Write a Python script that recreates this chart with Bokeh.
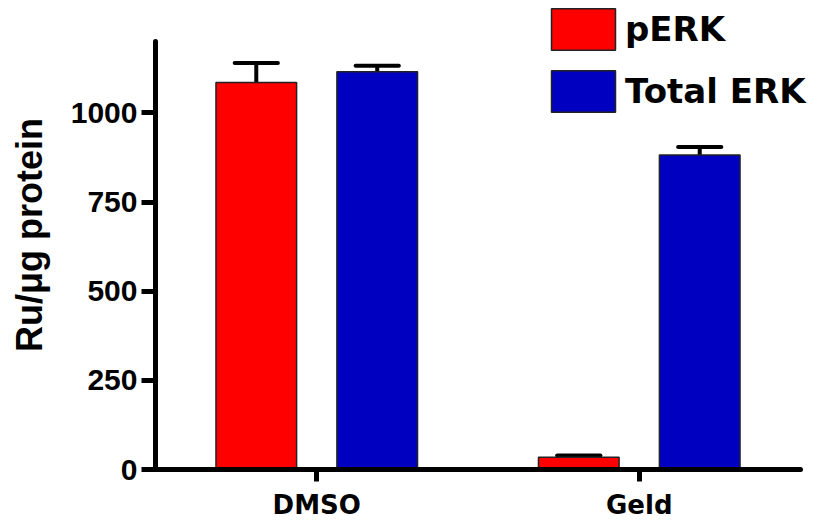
from bokeh.plotting import figure
from bokeh.models import ColumnDataSource, Range1d, FixedTicker
from bokeh.transform import dodge
from bokeh.embed import file_html
from bokeh.resources import INLINE

categories = ["DMSO", "Geld"]
series_names = ["pERK", "Total ERK"]
perk_values = [1085, 34]
perk_errors = [55, 5]
total_values = [1115, 882]
total_errors = [17, 22]
y_ticks = [0, 250, 500, 750, 1000]

colors = ["#FF0000", "#0000C0"]
offsets = [-0.1875, 0.1875]
positions = [i + 1 for i in range(len(categories))]

p = figure(x_range=Range1d(0.5, 2.624), y_range=Range1d(0, 1315),
           width=840, height=524, output_backend="svg", toolbar_location=None,
           min_border_left=155, min_border_right=0, min_border_top=0, min_border_bottom=55)

series = [(perk_values, perk_errors), (total_values, total_errors)]
for name, (vals, errs), col, off in zip(series_names, series, colors, offsets):
    src = ColumnDataSource(dict(x=positions, cat=categories, val=vals,
                                upper=[v + e for v, e in zip(vals, errs)]))
    p.segment(x0=dodge("x", off), y0="val", x1=dodge("x", off), y1="upper",
              source=src, line_color="black", line_width=4)
    p.segment(x0=dodge("x", off - 0.067), y0="upper", x1=dodge("x", off + 0.067), y1="upper",
              source=src, line_color="black", line_width=4, line_cap="round")
    p.vbar(x=dodge("x", off), top="val", width=0.25, source=src,
           fill_color=col, line_color="#222222", line_width=1.5, legend_label=name)

p.xgrid.visible = False
p.ygrid.visible = False
p.outline_line_color = None
p.background_fill_color = "white"

# y axis
ya = p.yaxis[0]
ya.bounds = (0, 1200)
ya.ticker = FixedTicker(ticks=y_ticks)
ya.axis_line_width = 5
ya.axis_line_cap = "round"
ya.major_tick_line_width = 5
ya.major_tick_out = 14
ya.major_tick_in = 0
ya.minor_tick_line_color = None
ya.major_label_text_font = "Liberation Sans"
ya.major_label_text_font_style = "bold"
ya.major_label_text_font_size = "30px"
ya.major_label_text_color = "black"
ya.major_label_standoff = 4
ya.axis_label = "Ru/μg protein"
ya.axis_label_text_font = "Liberation Sans"
ya.axis_label_text_font_style = "bold"
ya.axis_label_text_font_size = "36px"
ya.axis_label_text_color = "black"
ya.axis_label_standoff = 18

# x axis
xa = p.xaxis[0]
xa.bounds = (0.5, 2.5)
xa.ticker = FixedTicker(ticks=positions)
xa.major_label_overrides = {pos: cat for pos, cat in zip(positions, categories)}
xa.axis_line_width = 5
xa.axis_line_cap = "round"
xa.major_tick_line_width = 5
xa.major_tick_out = 12
xa.major_tick_in = 0
xa.minor_tick_line_color = None
xa.major_label_text_font = "DejaVu Sans"
xa.major_label_text_font_style = "bold"
xa.major_label_text_font_size = "26px"
xa.major_label_text_color = "black"
xa.major_label_standoff = 8

lg = p.legend[0]
lg.location = (388, 352)
lg.padding = 0
lg.margin = 0
lg.spacing = 10
lg.glyph_width = 80
lg.glyph_height = 52
lg.label_standoff = 2
lg.label_text_font = "DejaVu Sans"
lg.label_text_font_style = "bold"
lg.label_text_font_size = "34px"
lg.label_text_color = "black"
lg.border_line_color = None
lg.background_fill_alpha = 0

open("out.html", "w").write(file_html(p, INLINE))
